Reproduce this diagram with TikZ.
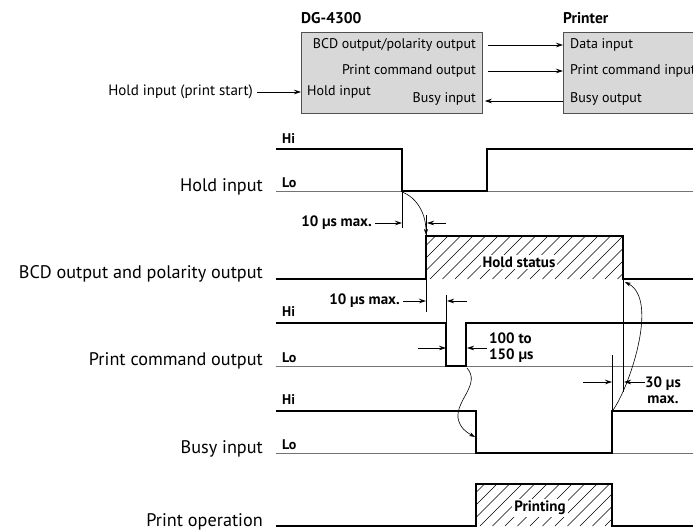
\documentclass[tikz,border=0pt]{standalone}
\usepackage{fontspec}
\setmainfont{PT Sans}
\usetikzlibrary{arrows.meta}
\definecolor{panel}{RGB}{216, 216, 216}
\definecolor{rim}{RGB}{80, 80, 80}

\tikzset{
  sig/.style={line width=1.3pt},
  base/.style={line width=0.6pt, black!55},
  guide/.style={line width=0.6pt},
  hatch/.style={line width=0.6pt},
  dimarrow/.style={-{Stealth[length=7pt,width=4.5pt]}, line width=0.7pt},
  bendarrow/.style={-{Stealth[length=6pt,width=4pt]}, line width=0.6pt},
  signame/.style={anchor=east, inner sep=0pt, font=\fontsize{18.2}{18}\selectfont},
  level/.style={anchor=west, inner sep=0pt, font=\bfseries\fontsize{14}{14}\selectfont},
  heading/.style={anchor=west, inner sep=0pt, font=\bfseries\fontsize{15.5}{15}\selectfont},
  note/.style={inner sep=0pt, font=\bfseries\fontsize{15}{16}\selectfont},
  unit/.style={draw=rim, fill=panel, line width=0.8pt, minimum height=81pt, anchor=north west},
  port/.style={inner sep=0pt, font=\fontsize{14}{14}\selectfont},
}

\begin{document}
\begin{tikzpicture}[x=1pt, y=-1pt]
  \useasboundingbox (0,0) rectangle (693,531);
  \clip (0,0) rectangle (693,531);

  % Block diagram
  \node[heading] (dgtitle) at (301,18) {DG-4300};
  \node[heading] (prntitle) at (563,18) {Printer};
  \node[unit, minimum width=181pt] (dg) at (301,32) {};
  \node[unit, minimum width=160pt] (prn) at (563,32) {};
  \node[port, anchor=east] (bcdout) at (476,45) {BCD output/polarity output};
  \node[port, anchor=east] (pcout) at (476,71) {Print command output};
  \node[port, anchor=west] (holdin) at (307,92) {Hold input};
  \node[port, anchor=east] (busyin) at (476,99) {Busy input};
  \node[port, anchor=west] (datain) at (570,45) {Data input};
  \node[port, anchor=west] (pcin) at (570,71) {Print command input};
  \node[port, anchor=west] (busyout) at (570,99) {Busy output};
  \node[port, anchor=east, font=\fontsize{15}{15}\selectfont] (holdsrc) at (253,92) {Hold input (print start)};

  \draw[dimarrow] ([xshift=5pt]dg.east |- bcdout) -- (prn.west |- bcdout);
  \draw[dimarrow] ([xshift=5pt]dg.east |- pcout) -- (prn.west |- pcout);
  \draw[dimarrow] ([yshift=-2pt]prn.west |- busyout) -- ([xshift=2pt, yshift=-2pt]dg.east |- busyout);
  \draw[dimarrow] ([xshift=4pt]holdsrc.east) -- (dg.west |- holdsrc);

  % Hold input
  \draw[base] (276,191) -- (693,191);
  \draw[sig] (276,149) -- (402,149) -- (402,191) -- (487,191) -- (487,149) -- (693,149);
  \node[level] (holdhi) at (282,139) {Hi};
  \node[level] (holdlo) at (282,183) {Lo};
  \node[signame] (hold) at (263,187) {Hold input};

  % first delay
  \draw[guide] (402,191) -- (402,228);
  \draw[guide] (426,215) -- (426,312);
  \node[note, anchor=east] (delayA) at (372,223) {10 µs max.};
  \draw[dimarrow] ([xshift=3pt]delayA.east) -- (402,223);
  \draw[dimarrow] (446,223) -- (427,223);
  \draw[bendarrow] (402,192) .. controls (418,198) and (426,215) .. (426,235);

  % BCD output and polarity output
  \begin{scope}
    \clip (426,236) rectangle (623,279);
    \foreach \s in {380,392.5,...,630}
      \draw[hatch] (\s,279) -- ++(45,-45);
  \end{scope}
  \draw[sig] (276,279) -- (426,279) -- (426,236) -- (623,236) -- (623,279) -- (693,279);
  \node[note, fill=white, inner sep=2pt] (holdstat) at (519,262) {Hold status};
  \node[signame] (bcd) at (263,274) {BCD output and polarity output};

  % second delay
  \draw[guide] (446,295) -- (446,323);
  \node[note, anchor=east] (delayB) at (400,301) {10 µs max.};
  \draw[dimarrow] ([xshift=3pt]delayB.east) -- (426,301);
  \draw[dimarrow] (467,301) -- (447,301);

  % Print command output
  \draw[base] (276,366) -- (693,366);
  \draw[sig] (276,323) -- (446,323) -- (446,366) -- (466,366) -- (466,323) -- (693,323);
  \node[level] (pchi) at (282,312) {Hi};
  \node[level] (pclo) at (282,358) {Lo};
  \node[signame] (pc) at (263,361) {Print command output};
  \draw[dimarrow] (418,348) -- (446,348);
  \draw[dimarrow] (487,348) -- (467,348);
  \node[note, anchor=west, align=left] (pulse) at (489,348) {100 to\\150 µs};
  \draw[bendarrow] (467,368) .. controls (481,384) and (456,400) .. (458,418)
    .. controls (460,428) and (466,432) .. (475,437);

  % Busy input
  \draw[guide] (612,355) -- (612,411);
  \draw[guide] (623,279) -- (623,392);
  \draw[base] (276,453) -- (693,453);
  \draw[sig] (276,411) -- (476,411) -- (476,453) -- (612,453) -- (612,411) -- (693,411);
  \node[level] (busyhi) at (282,400) {Hi};
  \node[level] (busylo) at (282,445) {Lo};
  \node[signame] (busy) at (263,449) {Busy input};
  \draw[dimarrow] (583,382) -- (612,382);
  \draw[dimarrow] (645,382) -- (624,382);
  \node[note, align=center] (release) at (663,390) {30 µs\\max.};
  \draw[bendarrow] (613,410) .. controls (628,390) and (660,300) .. (625,282);

  % Print operation
  \begin{scope}
    \clip (476,484) rectangle (612,526);
    \foreach \s in {430,442.5,...,620}
      \draw[hatch] (\s,526) -- ++(45,-45);
  \end{scope}
  \draw[sig] (276,526) -- (476,526) -- (476,484) -- (612,484) -- (612,526) -- (693,526);
  \node[note, fill=white, inner sep=2pt] (printing) at (540,508) {Printing};
  \node[signame] (printop) at (263,522) {Print operation};
\end{tikzpicture}
\end{document}
